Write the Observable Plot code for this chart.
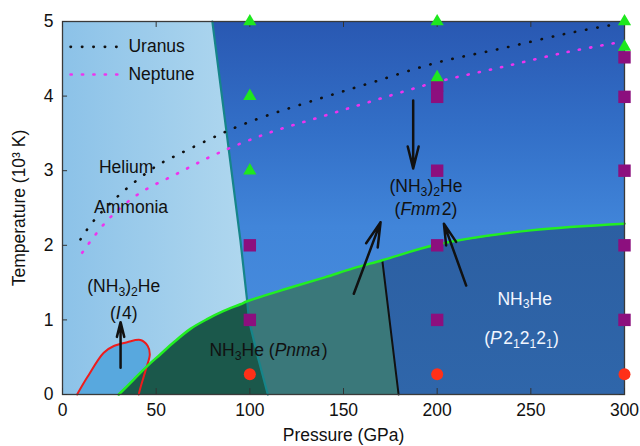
<!DOCTYPE html>
<html><head><meta charset="utf-8">
<script src="https://cdn.jsdelivr.net/npm/d3@7"></script>
<script src="https://cdn.jsdelivr.net/npm/@observablehq/plot@0.6"></script>
<style>body{margin:0;background:#fff;}</style>
</head><body><div id="chart"></div>
<script>
// ---- data (pressure GPa, temperature 10^3 K) ----
const P_TICKS = [0, 50, 100, 150, 200, 250, 300];
const T_TICKS = [0, 1, 2, 3, 4, 5];

const tealBoundary = [[80, 5], [95, 2.06], [98.6, 1.25], [99.5, 1.0], [104.3, 0.5], [109.6, 0]];
const greenBoundary = [[30, 0], [38, 0.2], [45.2, 0.38], [52.3, 0.54], [59.4, 0.70], [68.3, 0.88], [77.2, 1.01], [86.1, 1.12], [95, 1.21], [98.6, 1.25], [120, 1.42], [140, 1.57], [155, 1.69], [170.7, 1.8], [200, 2.01], [250, 2.2], [300, 2.29]];
const blackBoundary = [[170.7, 1.8], [179.4, 0]];
const i4Boundary = [[7.8, 0], [13.2, 0.23], [22, 0.56], [27.4, 0.65], [34.5, 0.70], [41.6, 0.73], [45.5, 0.65], [46.6, 0.54], [44.3, 0.32], [41.6, 0.09], [40.7, 0]];

const uranus = [[9.6, 2.08], [16.7, 2.33], [31.9, 2.71], [50.6, 3.07], [61.2, 3.21], [82.6, 3.47], [93.3, 3.59], [109.3, 3.74], [137.7, 3.97], [166.2, 4.19], [200, 4.45], [234.7, 4.64], [269.4, 4.84], [297, 4.97]];
const neptune = [[10.5, 1.9], [23.8, 2.33], [40.7, 2.69], [61.2, 2.96], [82.6, 3.23], [109.3, 3.5], [137.7, 3.72], [166.2, 3.94], [200, 4.19], [234.7, 4.39], [269.4, 4.59], [297, 4.72]];

const triangles = [[100, 5], [100, 4], [100, 3], [200, 5], [200, 4.25], [300, 5], [300, 4.66]];
const squares = [[100, 2], [100, 1], [200, 4.14], [200, 3.99], [200, 3], [200, 2], [200, 1], [300, 4.52], [300, 3.99], [300, 3], [300, 2], [300, 1]];
const circles = [[100, 0.27], [200, 0.27], [300, 0.27]];

const arrows = [
  {x1: 187.2, y1: 3.94, x2: 187.2, y2: 3.03},
  {x1: 31, y1: 0.36, x2: 31, y2: 0.97},
  {x1: 155.5, y1: 1.35, x2: 169.8, y2: 2.31},
  {x1: 215.5, y1: 1.46, x2: 203.6, y2: 2.29}
];

const labels = [
  {text: "Helium", P: 34, T: 3.05, white: false},
  {text: "Ammonia", P: 36.6, T: 2.51, white: false},
  {text: "(NH_{3})_{2}He", P: 32.7, T: 1.45, white: false},
  {text: "(*I*4)", P: 32.7, T: 1.09, white: false},
  {text: "(NH_{3})_{2}He", P: 194, T: 2.79, white: false},
  {text: "(*Fmm*2)", P: 194, T: 2.475, white: false},
  {text: "NH_{3}He (*Pnma*)", P: 110, T: 0.585, white: false},
  {text: "NH_{3}He", P: 246.7, T: 1.28, white: true},
  {text: "(*P*2_{1}2_{1}2_{1})", P: 245, T: 0.75, white: true}
];

const legendItems = [
  {name: "Uranus", color: "#111111", dash: "0.4,11", T: 4.66},
  {name: "Neptune", color: "#ee33ee", dash: "1.2,10.2", T: 4.29}
];
const legendSpan = [4.3, 30];
const legendTextP = 35.2;

// ---- derived polygons ----
const bluePoly = [...tealBoundary, [300, 0], [300, 5]];
const belowGreen = [...greenBoundary, [300, 0]];
const pnmaRight = [
  ...tealBoundary.filter(d => d[1] <= 1.25).reverse(),
  ...greenBoundary.filter(d => d[0] > 98.6 && d[0] <= 170.7),
  blackBoundary[1]
];
const p212Poly = [blackBoundary[1], ...greenBoundary.filter(d => d[0] >= 170.7), [300, 0]];

const FS = 17.5;
const ns = "http://www.w3.org/2000/svg";
const strip = s => s.replace(/_\{([^}]*)\}/g, "$1").replace(/\*/g, "");
const richMap = new Map(labels.map(d => [strip(d.text), d.text]));

function defs() {
  const d = document.createElementNS(ns, "defs");
  const mk = (id, x2, y2, stops) => {
    const g = document.createElementNS(ns, "linearGradient");
    g.setAttribute("id", id); g.setAttribute("x1", 0); g.setAttribute("y1", 0);
    g.setAttribute("x2", x2); g.setAttribute("y2", y2);
    for (const [o, c] of stops) {
      const s = document.createElementNS(ns, "stop");
      s.setAttribute("offset", o); s.setAttribute("stop-color", c); g.appendChild(s);
    }
    d.appendChild(g);
  };
  mk("bgGrad", 1, 0, [[0, "#8cc2e8"], [0.34, "#b1d8ef"], [1, "#b1d8ef"]]);
  mk("blueGrad", 0, 1, [[0, "#2958b2"], [0.3, "#3370c8"], [0.55, "#4185d9"], [1, "#4a90e0"]]);
  mk("p212Grad", 0, 1, [[0, "#2c5fa2"], [1, "#2f66aa"]]);
  return d;
}

const X = d => d[0], Y = d => d[1];
const plot = Plot.plot({
  width: 640, height: 446,
  marginLeft: 62, marginRight: 16, marginTop: 21, marginBottom: 52,
  style: {fontFamily: "'Liberation Sans', Arial, Helvetica, sans-serif", fontSize: FS + "px", color: "#111", background: "#fff"},
  x: {domain: [0, 300]},
  y: {domain: [0, 5]},
  marks: [
    defs,
    Plot.frame({fill: "url(#bgGrad)", stroke: "none"}),
    Plot.line(i4Boundary, {x: X, y: Y, fill: "#58a8de", stroke: "none", curve: "catmull-rom"}),
    Plot.line(bluePoly, {x: X, y: Y, fill: "url(#blueGrad)", stroke: "none"}),
    Plot.line(belowGreen, {x: X, y: Y, fill: "#1b584b", stroke: "none"}),
    Plot.line(pnmaRight, {x: X, y: Y, fill: "#3a787a", stroke: "none"}),
    Plot.line(p212Poly, {x: X, y: Y, fill: "url(#p212Grad)", stroke: "none"}),
    Plot.line(tealBoundary, {x: X, y: Y, stroke: "#16858a", strokeWidth: 2.2}),
    Plot.line(blackBoundary, {x: X, y: Y, stroke: "#111", strokeWidth: 2}),
    Plot.line(i4Boundary, {x: X, y: Y, stroke: "#ee1c1c", strokeWidth: 2, curve: "catmull-rom"}),
    Plot.line(greenBoundary, {x: X, y: Y, stroke: "#22ee22", strokeWidth: 2.5, curve: "catmull-rom"}),
    Plot.frame({stroke: "#3a3a3a", strokeWidth: 1.3}),
    Plot.ruleX(P_TICKS, {x: d => d, y1: 0, y2: 0.08, stroke: "#333"}),
    Plot.ruleX(P_TICKS, {x: d => d, y1: 4.92, y2: 5, stroke: "#333"}),
    Plot.ruleY(T_TICKS, {y: d => d, x1: 0, x2: 2.7, stroke: "#333"}),
    Plot.ruleY(T_TICKS, {y: d => d, x1: 297.3, x2: 300, stroke: "#333"}),
    Plot.axisX({ticks: P_TICKS, tickFormat: d3.format("d"), tickSize: 0, tickPadding: 9, label: "Pressure (GPa)", labelAnchor: "center", labelArrow: "none", labelOffset: 46}),
    Plot.axisY({ticks: T_TICKS, tickFormat: d3.format("d"), tickSize: 0, tickPadding: 9, label: "Temperature (10³ K)", labelAnchor: "center", labelArrow: "none", labelOffset: 50}),
    Plot.line(uranus, {x: X, y: Y, stroke: "#111", strokeWidth: 2.6, strokeDasharray: "0.4,11", strokeLinecap: "round", curve: "catmull-rom"}),
    Plot.line(neptune, {x: X, y: Y, stroke: "#ee33ee", strokeWidth: 2.6, strokeDasharray: "1.2,10.2", strokeLinecap: "round", curve: "catmull-rom"}),
    ...legendItems.map(it => Plot.line(legendSpan.map(p => [p, it.T]), {x: X, y: Y, stroke: it.color, strokeWidth: 2.6, strokeDasharray: it.dash, strokeLinecap: "round"})),
    Plot.text(legendItems, {x: () => legendTextP, y: "T", text: "name", textAnchor: "start", fill: "#111"}),
    Plot.arrow(arrows, {x1: "x1", y1: "y1", x2: "x2", y2: "y2", stroke: "#111", strokeWidth: 2.5, headLength: 18, headAngle: 28}),
    Plot.text(labels.filter(d => !d.white), {x: "P", y: "T", text: d => strip(d.text), fill: "#111"}),
    Plot.text(labels.filter(d => d.white), {x: "P", y: "T", text: d => strip(d.text), fill: "#f2f6ff"}),
    Plot.dot(circles, {x: X, y: Y, r: 6, fill: "#ff3018", stroke: "none"}),
    Plot.dot(squares, {x: X, y: Y, r: 7, symbol: "square", fill: "#8c0f7e", stroke: "none"}),
    Plot.dot(triangles, {x: X, y: Y, r: 4.9, symbol: "triangle", fill: "#1ee81e", stroke: "none"})
  ]
});

function renderRich(el, markup, fs) {
  while (el.firstChild) el.removeChild(el.firstChild);
  const re = /_\{([^}]*)\}|\*([^*]*)\*|([^_*]+)/g;
  let m, shifted = false, afterItalic = false;
  const sh = fs * 0.22;
  while ((m = re.exec(markup))) {
    const ts = document.createElementNS(ns, "tspan");
    if (m[1] !== undefined) {
      ts.textContent = m[1];
      ts.setAttribute("font-size", fs * 0.7);
      if (!shifted) ts.setAttribute("dy", sh);
      shifted = true;
    } else {
      ts.textContent = m[2] !== undefined ? m[2] : m[3];
      if (m[2] !== undefined) ts.setAttribute("font-style", "italic");
      if (shifted) { ts.setAttribute("dy", -sh); shifted = false; }
      if (afterItalic) ts.setAttribute("dx", 1.5);
    }
    afterItalic = m[2] !== undefined;
    el.appendChild(ts);
  }
}
plot.querySelectorAll("text").forEach(t => {
  const key = t.textContent;
  if (richMap.has(key) && richMap.get(key) !== key) renderRich(t, richMap.get(key), FS);
});
document.getElementById("chart").appendChild(plot);
</script>
</body></html>
